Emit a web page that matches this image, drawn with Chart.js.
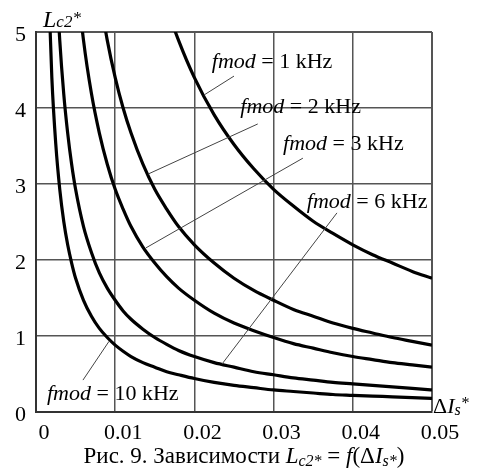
<!DOCTYPE html>
<html>
<head>
<meta charset="utf-8">
<script src="https://cdn.jsdelivr.net/npm/chart.js@4"></script>
<style>
  body { margin: 0; background: #fff; }
  #wrap { width: 480px; height: 472px; }
</style>
</head>
<body>
<div id="wrap"><canvas id="chart" width="480" height="472"></canvas></div>
<script>
// values
const dI = [0.0015, 0.002, 0.0025, 0.003, 0.0035, 0.004, 0.0045, 0.005, 0.006, 0.007,
            0.008, 0.009, 0.01, 0.011, 0.012, 0.0135, 0.015, 0.0165, 0.018, 0.02,
            0.0225, 0.025, 0.0275, 0.03, 0.0325, 0.035, 0.0375, 0.04, 0.0425, 0.045,
            0.0475, 0.05];
const f1kHz = [null, null, null, null, null, null, null, null, null, null,
               null, null, null, null, null, null, 5.87, 5.33, 4.89, 4.40,
               3.91, 3.52, 3.20, 2.93, 2.71, 2.51, 2.35, 2.20, 2.07, 1.96,
               1.85, 1.76];
const f2kHz = [null, null, null, null, null, null, null, null, null, null,
               5.50, 4.89, 4.40, 4.00, 3.67, 3.26, 2.93, 2.67, 2.44, 2.20,
               1.96, 1.76, 1.60, 1.47, 1.35, 1.26, 1.17, 1.10, 1.04, 0.98,
               0.93, 0.88];
const f3kHz = [null, null, null, null, null, null, 6.52, 5.87, 4.89, 4.19,
               3.67, 3.26, 2.93, 2.67, 2.44, 2.17, 1.96, 1.78, 1.63, 1.47,
               1.30, 1.17, 1.07, 0.98, 0.90, 0.84, 0.78, 0.73, 0.69, 0.65,
               0.62, 0.59];
const f6kHz = [null, 7.33, 5.87, 4.89, 4.19, 3.67, 3.26, 2.93, 2.44, 2.10,
               1.83, 1.63, 1.47, 1.33, 1.22, 1.09, 0.98, 0.89, 0.81, 0.73,
               0.65, 0.59, 0.53, 0.49, 0.45, 0.42, 0.39, 0.37, 0.35, 0.33,
               0.31, 0.29];
const f10kHz = [5.87, 4.40, 3.52, 2.93, 2.51, 2.20, 1.96, 1.76, 1.47, 1.26,
                1.10, 0.98, 0.88, 0.80, 0.73, 0.65, 0.59, 0.53, 0.49, 0.44,
                0.39, 0.35, 0.32, 0.29, 0.27, 0.25, 0.23, 0.22, 0.21, 0.20,
                0.19, 0.18];
const curveNames = ['1 kHz', '2 kHz', '3 kHz', '6 kHz', '10 kHz'];
const xTickLabels = ['0', '0.01', '0.02', '0.03', '0.04', '0.05'];
const yTickLabels = ['0', '1', '2', '3', '4', '5'];

const SERIF = '"Liberation Serif", "Times New Roman", serif';

// label text + leader line (in data units)
const notes = [
  { name: curveNames[0], at: [0.0222, 4.53], line: [[0.0250, 4.42], [0.0212, 4.17]] },
  { name: curveNames[1], at: [0.0258, 3.93], line: [[0.0280, 3.79], [0.01414, 3.13]] },
  { name: curveNames[2], at: [0.0312, 3.45], line: [[0.0337, 3.34], [0.01389, 2.16]] },
  { name: curveNames[3], at: [0.0342, 2.68], line: [[0.0380, 2.62], [0.02348, 0.63]] },
  { name: curveNames[4], at: [0.00139, 0.16], line: [[0.00593, 0.42], [0.00922, 0.93]] },
];

function drawRuns(ctx, x, y, runs) {
  runs.forEach(r => {
    ctx.font = (r.i ? 'italic ' : '') + r.s + 'px ' + SERIF;
    ctx.fillText(r.t, x, y + (r.dy || 0));
    x += ctx.measureText(r.t).width;
  });
  return x;
}
function runsWidth(ctx, runs) {
  let w = 0;
  runs.forEach(r => {
    ctx.font = (r.i ? 'italic ' : '') + r.s + 'px ' + SERIF;
    w += ctx.measureText(r.t).width;
  });
  return w;
}

const notesPlugin = {
  id: 'notes',
  afterDraw(chart) {
    const ctx = chart.ctx;
    const xs = chart.scales.x, ys = chart.scales.y;
    ctx.save();
    ctx.fillStyle = '#000';
    ctx.textBaseline = 'alphabetic';
    ctx.textAlign = 'left';

    notes.forEach(n => {
      ctx.strokeStyle = '#444';
      ctx.lineWidth = 1;
      ctx.beginPath();
      ctx.moveTo(xs.getPixelForValue(n.line[0][0]), ys.getPixelForValue(n.line[0][1]));
      ctx.lineTo(xs.getPixelForValue(n.line[1][0]), ys.getPixelForValue(n.line[1][1]));
      ctx.stroke();
      drawRuns(ctx, xs.getPixelForValue(n.at[0]), ys.getPixelForValue(n.at[1]), [
        { t: 'fmod', i: true, s: 22 },
        { t: ' = ', s: 22 },
        { t: n.name, s: 22 },
      ]);
    });

    // axis titles
    drawRuns(ctx, 43, 27, [
      { t: 'L', i: true, s: 24 },
      { t: 'c2', i: true, s: 17 },
      { t: '*', i: true, s: 17, dy: -4 },
    ]);
    drawRuns(ctx, xs.right + 1, ys.bottom + 1, [
      { t: 'Δ', s: 22 },
      { t: 'I', i: true, s: 22 },
      { t: 's', i: true, s: 16, dy: 2 },
      { t: '*', i: true, s: 16, dy: -5 },
    ]);

    // caption
    const cap = [
      { t: 'Рис. 9. Зависимости ', s: 23 },
      { t: 'L', i: true, s: 23 },
      { t: 'c2*', i: true, s: 16, dy: 3 },
      { t: ' = ', s: 23 },
      { t: 'f', i: true, s: 23 },
      { t: '(Δ', s: 23 },
      { t: 'I', i: true, s: 23 },
      { t: 's*', i: true, s: 16, dy: 3 },
      { t: ')', s: 23 },
    ];
    drawRuns(ctx, 244 - runsWidth(ctx, cap) / 2, 463, cap);
    ctx.restore();
  }
};

const series = [f1kHz, f2kHz, f3kHz, f6kHz, f10kHz];

new Chart(document.getElementById('chart'), {
  type: 'line',
  data: {
    datasets: series.map((vals, k) => ({
      label: curveNames[k],
      data: dI.map((x, i) => ({ x: x, y: vals[i] })),
      borderColor: '#000',
      borderWidth: 3.2,
      pointRadius: 0,
      fill: false,
      cubicInterpolationMode: 'monotone',
    })),
  },
  options: {
    responsive: false,
    animation: false,
    layout: { padding: { left: 0, right: 48, top: 32, bottom: 0 } },
    plugins: { legend: { display: false }, tooltip: { enabled: false } },
    scales: {
      x: {
        type: 'linear',
        min: 0, max: 0.05,
        afterFit: s => { s.height = 60; },
        grid: {
          color: '#555',
          lineWidth: c => (c.index === 5 ? 2 : 1.5),
          drawTicks: false,
        },
        border: { color: '#333', width: 2 },
        ticks: {
          stepSize: 0.01,
          padding: 8,
          labelOffset: 8,
          color: '#000',
          font: { family: SERIF, size: 22 },
          callback: (v, i) => xTickLabels[i],
        },
      },
      y: {
        min: 0, max: 5,
        afterFit: s => { s.width = 36; },
        grid: {
          color: '#555',
          lineWidth: c => (c.index === 5 ? 2 : 1.5),
          drawTicks: false,
        },
        border: { color: '#333', width: 2 },
        ticks: {
          stepSize: 1,
          padding: 10,
          labelOffset: 3,
          color: '#000',
          font: { family: SERIF, size: 22 },
          callback: (v, i) => yTickLabels[i],
        },
      },
    },
  },
  plugins: [notesPlugin],
});
</script>
</body>
</html>
